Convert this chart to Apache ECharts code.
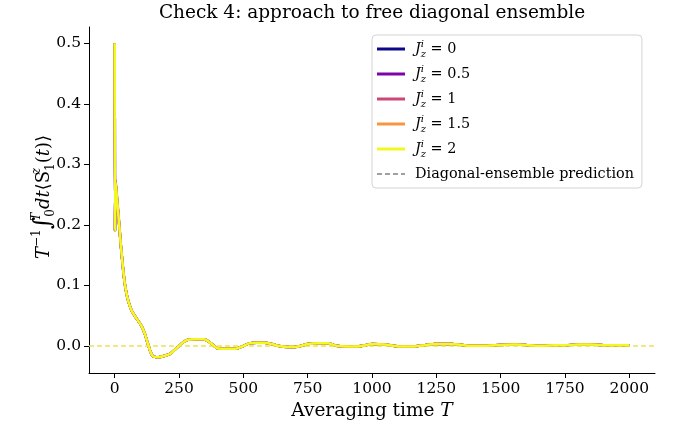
<!DOCTYPE html>
<html>
<head>
<meta charset="utf-8">
<script src="https://cdn.jsdelivr.net/npm/echarts@6/dist/echarts.min.js"></script>
<style>
html,body{margin:0;padding:0;background:#fff;}
#chart{width:678px;height:431px;}
</style>
</head>
<body>
<div id="chart"></div>
<script>
// ---- data ----
const titleText = 'Check 4: approach to free diagonal ensemble';
const xTicks = [0, 250, 500, 750, 1000, 1250, 1500, 1750, 2000];
const yTicks = [0.0, 0.1, 0.2, 0.3, 0.4, 0.5];
const jzValues = ['0', '0.5', '1', '1.5', '2'];
const jzColors = ['#0d0887', '#7e03a8', '#cc4778', '#f89540', '#f0f921'];
const diagPrediction = [0, 0, 0, 0, 0];

const averagingTime = [0,1,2.5,4,6,10,15,20,24,30,34,40,48,57,67,80,93,105,113,120,126,133,139,146,152,170,191,217,235,256,270,285,310,347,365,380,399,430,470,497,523,550,581,610,634,673,698,725,751,790,829,861,900,946,975,1000,1050,1102,1167,1205,1245,1311,1337,1376,1420,1479,1557,1610,1662,1710,1753,1800,1845,1900,1982,2000];

const avgJz0 = [0.50,0.19,0.27,0.264,0.256,0.235,0.211,0.185,0.164,0.137,0.120,0.100,0.082,0.068,0.057,0.048,0.040,0.032,0.024,0.016,0.007,-0.002,-0.010,-0.016,-0.018,-0.019,-0.017,-0.013,-0.006,0.002,0.007,0.010,0.011,0.011,0.007,0.002,-0.004,-0.005,-0.005,-0.001,0.004,0.005,0.005,0.003,0.000,-0.002,-0.002,0.000,0.003,0.004,0.004,0.000,-0.001,-0.001,0.001,0.003,0.002,-0.001,-0.001,0.001,0.003,0.003,0.002,0.000,0.000,0.001,0.002,0.001,0.000,0.001,0.001,0.002,0.002,0.001,0.001,0.001];
const avgJz05 = [0.50,0.19,0.27,0.265,0.257,0.236,0.212,0.186,0.165,0.138,0.121,0.100,0.082,0.068,0.057,0.048,0.040,0.032,0.024,0.016,0.007,-0.002,-0.010,-0.016,-0.018,-0.019,-0.017,-0.013,-0.006,0.002,0.007,0.010,0.011,0.011,0.007,0.002,-0.004,-0.005,-0.005,-0.001,0.004,0.005,0.005,0.003,0.000,-0.002,-0.002,0.000,0.003,0.004,0.004,0.000,-0.001,-0.001,0.001,0.003,0.002,-0.001,-0.001,0.001,0.003,0.003,0.002,0.000,0.000,0.001,0.002,0.001,0.000,0.001,0.001,0.002,0.002,0.001,0.001,0.001];
const avgJz1 = [0.50,0.19,0.275,0.269,0.261,0.240,0.215,0.188,0.166,0.139,0.121,0.101,0.082,0.068,0.057,0.048,0.040,0.032,0.024,0.016,0.007,-0.002,-0.010,-0.016,-0.018,-0.019,-0.017,-0.013,-0.006,0.002,0.007,0.010,0.011,0.011,0.007,0.002,-0.004,-0.005,-0.005,-0.001,0.004,0.005,0.005,0.003,0.000,-0.002,-0.002,0.000,0.003,0.004,0.004,0.000,-0.001,-0.001,0.001,0.003,0.002,-0.001,-0.001,0.001,0.003,0.003,0.002,0.000,0.000,0.001,0.002,0.001,0.000,0.001,0.001,0.002,0.002,0.001,0.001,0.001];
const avgJz15 = [0.50,0.19,0.272,0.267,0.259,0.238,0.213,0.187,0.165,0.138,0.121,0.100,0.082,0.068,0.057,0.048,0.040,0.032,0.024,0.016,0.007,-0.002,-0.010,-0.016,-0.018,-0.019,-0.017,-0.013,-0.006,0.002,0.007,0.010,0.011,0.011,0.007,0.002,-0.004,-0.005,-0.005,-0.001,0.004,0.005,0.005,0.003,0.000,-0.002,-0.002,0.000,0.003,0.004,0.004,0.000,-0.001,-0.001,0.001,0.003,0.002,-0.001,-0.001,0.001,0.003,0.003,0.002,0.000,0.000,0.001,0.002,0.001,0.000,0.001,0.001,0.002,0.002,0.001,0.001,0.001];
const avgJz2 = [0.50,0.19,0.27,0.265,0.257,0.236,0.212,0.186,0.165,0.138,0.121,0.100,0.082,0.068,0.057,0.048,0.040,0.032,0.024,0.016,0.007,-0.002,-0.010,-0.016,-0.018,-0.019,-0.017,-0.013,-0.006,0.002,0.007,0.010,0.011,0.011,0.007,0.002,-0.004,-0.005,-0.005,-0.001,0.004,0.005,0.005,0.003,0.000,-0.002,-0.002,0.000,0.003,0.004,0.004,0.000,-0.001,-0.001,0.001,0.003,0.002,-0.001,-0.001,0.001,0.003,0.003,0.002,0.000,0.000,0.001,0.002,0.001,0.000,0.001,0.001,0.002,0.002,0.001,0.001,0.001];
const seriesValues = [avgJz0, avgJz05, avgJz1, avgJz15, avgJz2];
const diagLegendName = 'Diagonal-ensemble prediction';

// ---- chart ----
const FONT = '"DejaVu Serif", serif';
const chart = echarts.init(document.getElementById('chart'), null, {renderer: 'canvas'});

const LEG_FS = 14.4;
const legendRich = {
  J: {fontFamily: FONT, fontStyle: 'italic', fontSize: LEG_FS, lineHeight: 20, color: '#000'},
  sup: {fontFamily: FONT, fontStyle: 'italic', fontSize: 10, lineHeight: 11, verticalAlign: 'top', width: 0, color: '#000'},
  sub: {fontFamily: FONT, fontStyle: 'italic', fontSize: 10, lineHeight: 11, verticalAlign: 'bottom', color: '#000'},
  n: {fontFamily: FONT, fontSize: LEG_FS, lineHeight: 20, color: '#000'}
};
const lineIcon = 'path://M0,0H28V3H0Z';
const dashIcon = 'path://M0,0H5V2H0Z M8,0H13V2H8Z M16,0H21V2H16Z M24,0H28V2H24Z';

const series = [];
jzValues.forEach((jz, k) => {
  const s = {
    name: 'Jz=' + jz,
    type: 'line',
    data: averagingTime.map((t, i) => [t, seriesValues[k][i]]),
    symbol: 'none',
    showSymbol: false,
    smooth: 0.25,
    color: jzColors[k],
    lineStyle: {width: 2.5, color: jzColors[k]},
    z: 2 + k
  };
  if (k === jzValues.length - 1) {
    s.markLine = {
      silent: true,
      symbol: ['none', 'none'],
      label: {show: false},
      lineStyle: {color: '#e9e35a', type: [5, 3], width: 1.5, opacity: 1},
      data: [{yAxis: diagPrediction[k]}]
    };
  }
  series.push(s);
});
series.push({
  name: diagLegendName,
  type: 'line',
  data: [],
  symbol: 'none',
  color: '#999999',
  lineStyle: {width: 1.2, color: '#999999', type: [4, 3]}
});

const legendData = jzValues.map((j, k) => ({name: 'Jz=' + j, icon: lineIcon, itemStyle: {color: jzColors[k]}}))
  .concat([{name: diagLegendName, icon: dashIcon, itemStyle: {color: '#a0a0a0'}}]);

const option = {
  animation: false,
  backgroundColor: '#ffffff',
  grid: {left: 89, right: 23, top: 27, bottom: 58, containLabel: false},
  xAxis: {
    type: 'value',
    min: -100,
    max: 2100,
    axisLine: {show: true, onZero: false, lineStyle: {color: '#000', width: 1}},
    axisTick: {show: true, length: 5, customValues: xTicks, lineStyle: {color: '#000'}},
    axisLabel: {customValues: xTicks, margin: 8, fontFamily: FONT, fontSize: 15.5, color: '#000',
      formatter: v => String(v)},
    splitLine: {show: false},
    name: '{n|Averaging time }{i|T}',
    nameLocation: 'middle',
    nameGap: 28,
    nameTextStyle: {
      rich: {
        n: {fontFamily: FONT, fontSize: 18.5, color: '#000'},
        i: {fontFamily: FONT, fontSize: 18.5, fontStyle: 'italic', color: '#000'}
      }
    }
  },
  yAxis: {
    type: 'value',
    min: -0.045,
    max: 0.527,
    axisLine: {show: true, onZero: false, lineStyle: {color: '#000', width: 1}},
    axisTick: {show: true, length: 5, customValues: yTicks, lineStyle: {color: '#000'}},
    axisLabel: {customValues: yTicks, margin: 8, fontFamily: FONT, fontSize: 15.5, color: '#000',
      formatter: v => v.toFixed(1)},
    splitLine: {show: false}
  },
  legend: {
    orient: 'vertical',
    left: 372,
    top: 35,
    padding: [4, 8, 4, 5],
    itemGap: 5,
    itemWidth: 28,
    itemHeight: 3,
    borderColor: '#d4d4d4',
    borderWidth: 1,
    borderRadius: 4,
    backgroundColor: 'rgba(255,255,255,0.85)',
    data: legendData,
    formatter: name => {
      if (name === diagLegendName) return '{n|' + name + '}';
      const j = name.slice(3);
      return '{J|J}{sup|i}{sub|z}{n| = ' + j + '}';
    },
    textStyle: {fontFamily: FONT, fontSize: LEG_FS, color: '#000', lineHeight: 20, padding: [0, 0, 0, 5], rich: legendRich}
  },
  graphic: [
    {
      type: 'text',
      x: 372,
      y: 13,
      style: {
        text: titleText,
        font: '18.5px "DejaVu Serif", serif',
        fill: '#000',
        align: 'center',
        verticalAlign: 'middle'
      }
    },
    {
      type: 'text',
      x: 44,
      y: 197,
      rotation: Math.PI / 2,
      style: {
        text: '{T|T}{sup|−1}{int|∫}{supw|T}{sub|0}{T|dt}{n|⟨S}{supw|z}{sub|1}{n|(}{T|t}{n|)⟩}',
        align: 'center',
        verticalAlign: 'middle',
        fill: '#000',
        rich: {
          T: {fontFamily: FONT, fontStyle: 'italic', fontSize: 18, lineHeight: 26, fill: '#000', color: '#000'},
          n: {fontFamily: FONT, fontSize: 18, lineHeight: 26, fill: '#000', color: '#000'},
          int: {fontFamily: FONT, fontSize: 24, lineHeight: 26, fill: '#000', color: '#000'},
          sup: {fontFamily: FONT, fontSize: 12, lineHeight: 13, verticalAlign: 'top', fill: '#000', color: '#000'},
          supw: {fontFamily: FONT, fontStyle: 'italic', fontSize: 12, lineHeight: 13, verticalAlign: 'top', width: 0, fill: '#000', color: '#000'},
          sub: {fontFamily: FONT, fontSize: 12, lineHeight: 13, verticalAlign: 'bottom', fill: '#000', color: '#000'}
        }
      }
    }
  ],
  series: series
};
chart.setOption(option);
</script>
</body>
</html>
